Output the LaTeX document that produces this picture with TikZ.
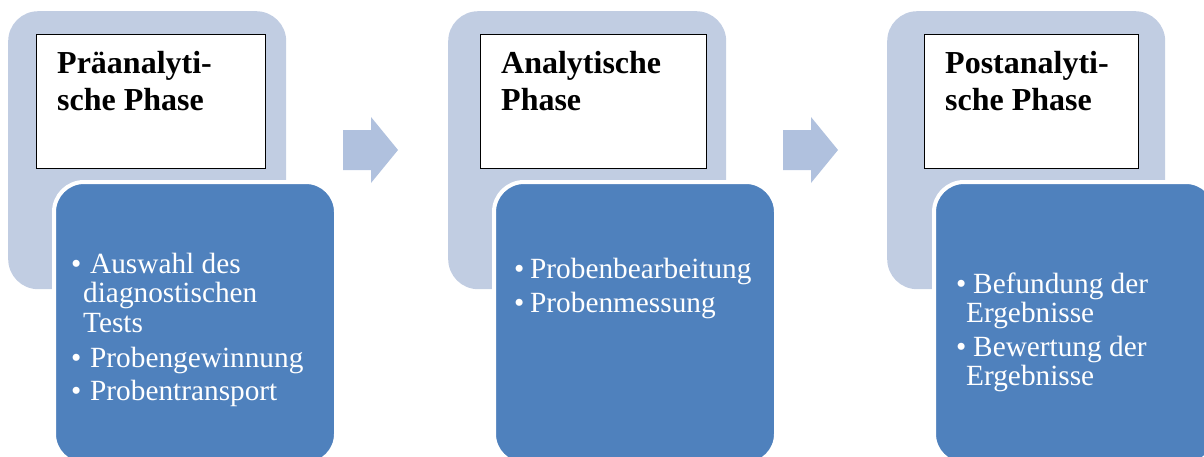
\documentclass[tikz,border=0pt]{standalone}
\usepackage{fontspec}
\setmainfont{Liberation Serif}
\definecolor{lightpanel}{RGB}{193,205,226}
\definecolor{arrowc}{RGB}{176,193,222}
\definecolor{darkbox}{RGB}{79,129,189}
\tikzset{
  panelbox/.style={anchor=north west, inner sep=0pt, fill=lightpanel, rounded corners=30pt,
    minimum width=278pt, minimum height=278pt},
  titlebox/.style={anchor=north west, inner sep=0pt, fill=white, draw=black, line width=0.9pt,
    minimum height=134pt},
  detailbox/.style={anchor=north west, inner sep=0pt, fill=darkbox, draw=white, line width=4pt,
    rounded corners=30pt, minimum width=282pt, minimum height=282pt},
  headtext/.style={anchor=base west, inner sep=0pt, text=black,
    font=\fontsize{32}{37}\selectfont\bfseries},
  itemtext/.style={anchor=base west, inner sep=0pt, text=white,
    font=\fontsize{29.3}{29.5}\selectfont},
  blockarrow/.style={fill=arrowc, draw=none}
}
\newcommand{\twolines}[3]{\vtop{\baselineskip=#1\hbox{#2}\hbox{#3}}}
\newcommand{\threelines}[4]{\vtop{\baselineskip=#1\hbox{#2}\hbox{#3}\hbox{#4}}}
\begin{document}
\begin{tikzpicture}[x=1pt,y=-1pt]
\useasboundingbox (0,0) rectangle (1204,456);
\clip (0,0) rectangle (1204,456);

% ---------- Panel 1 ----------
\node[panelbox] (p1) at (8,11) {};
\node[titlebox, minimum width=229pt] (t1) at (36,34) {};
\node[detailbox] (d1) at (52,180) {};
\node[headtext] (h1) at (57,73) {\twolines{37pt}{Präanalyti-}{sche Phase}};
\node[itemtext] (a1) at (71,273) {\threelines{29.5pt}{\makebox[19pt][l]{•}Auswahl des}{\hspace*{12pt}diagnostischen}{\hspace*{12pt}Tests}};
\node[itemtext] (a2) at (71,367) {\makebox[19pt][l]{•}Probengewinnung};
\node[itemtext] (a3) at (71,400) {\makebox[19pt][l]{•}Probentransport};

% ---------- Arrow 1 ----------
\fill[blockarrow] (343,130) -- (371,130) -- (371,117) -- (398,150) -- (371,183) -- (371,170) -- (343,170) -- cycle;

% ---------- Panel 2 ----------
\node[panelbox] (p2) at (448,11) {};
\node[titlebox, minimum width=226pt] (t2) at (480,34) {};
\node[detailbox] (d2) at (492,180) {};
\node[headtext] (h2) at (501,73) {\twolines{37pt}{Analytische}{Phase}};
\node[itemtext] (b1) at (514,278) {\makebox[16pt][l]{•}Probenbearbeitung};
\node[itemtext] (b2) at (514,312) {\makebox[16pt][l]{•}Probenmessung};

% ---------- Arrow 2 ----------
\fill[blockarrow] (783,130) -- (811,130) -- (811,117) -- (838,150) -- (811,183) -- (811,170) -- (783,170) -- cycle;

% ---------- Panel 3 ----------
\node[panelbox] (p3) at (887,11) {};
\node[titlebox, minimum width=214pt] (t3) at (924,34) {};
\node[detailbox] (d3) at (932,180) {};
\node[headtext] (h3) at (945,73) {\twolines{37pt}{Postanalyti-}{sche Phase}};
\node[itemtext] (c1) at (956,293) {\twolines{29.5pt}{\makebox[17pt][l]{•}Befundung der}{\hspace*{10pt}Ergebnisse}};
\node[itemtext] (c2) at (956,356) {\twolines{29.5pt}{\makebox[17pt][l]{•}Bewertung der}{\hspace*{10pt}Ergebnisse}};
\end{tikzpicture}
\end{document}
